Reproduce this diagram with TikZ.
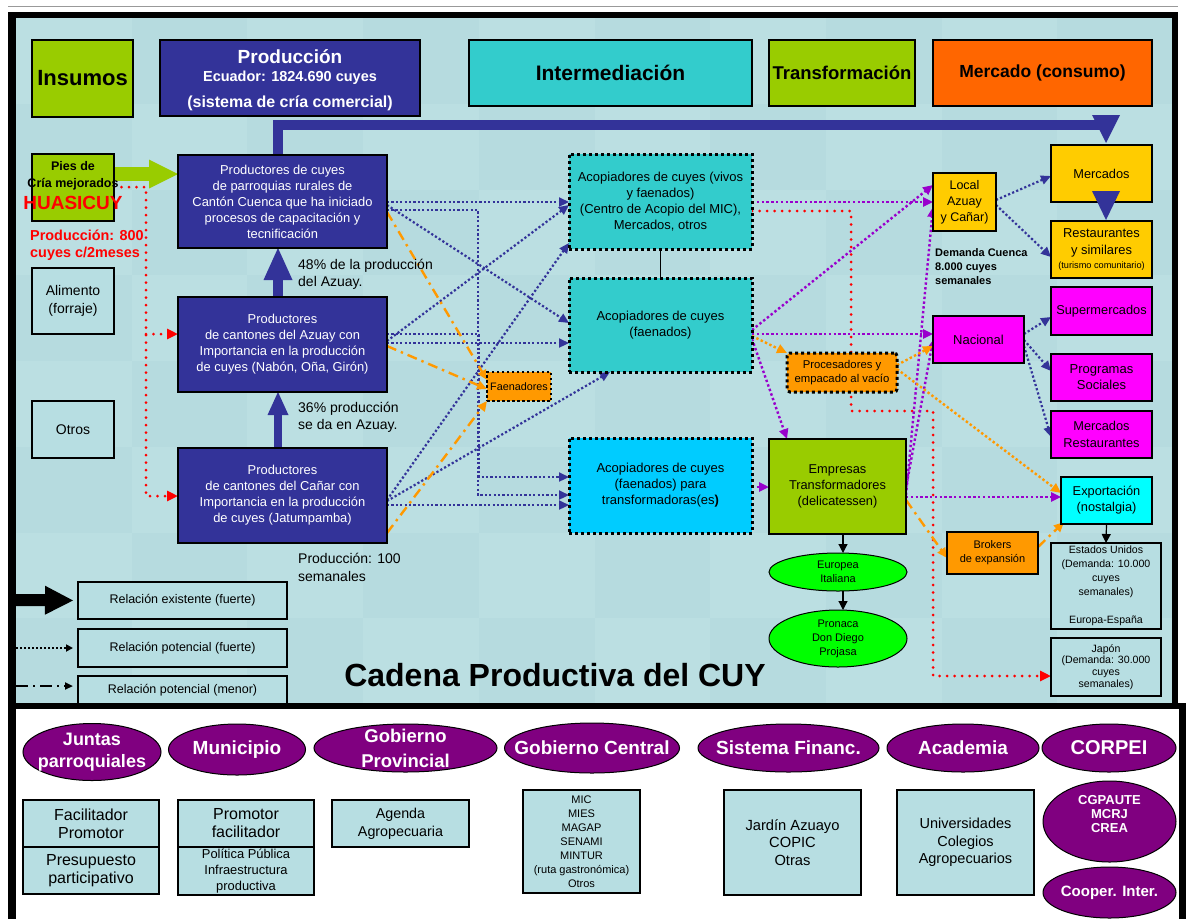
\documentclass[tikz,border=0pt]{standalone}
\usepackage{fontspec}
\setmainfont{Liberation Sans}
\usetikzlibrary{arrows.meta,shapes.geometric,calc}
\definecolor{navy}{RGB}{51,51,153}
\definecolor{lime}{RGB}{153,204,0}
\definecolor{teal2}{RGB}{51,204,204}
\definecolor{orangeH}{RGB}{255,102,0}
\definecolor{orangeB}{RGB}{255,153,0}
\definecolor{yellowB}{RGB}{255,204,0}
\definecolor{magB}{RGB}{255,0,255}
\definecolor{cyanB}{RGB}{0,255,255}
\definecolor{skyB}{RGB}{0,204,255}
\definecolor{greenE}{RGB}{0,255,0}
\definecolor{purpE}{RGB}{128,0,128}
\definecolor{violetL}{RGB}{153,0,204}
\definecolor{bgA}{RGB}{182,219,223}
\definecolor{bgB}{RGB}{187,223,226}
\definecolor{boxL}{RGB}{183,222,226}
\definecolor{redL}{RGB}{255,0,0}
\pgfdeclarelayer{back}
\pgfdeclarelayer{links}
\pgfsetlayers{back,links,main}
\newcommand{\fz}[2]{\fontsize{#1}{#2}\selectfont}
\begin{document}
\begin{tikzpicture}[x=1pt,y=-1pt,
  bx/.style={draw=black, line width=1.2pt, inner sep=0pt, outer sep=0pt, align=center},
  dbx/.style={draw=black, line width=3pt, dash pattern=on 3pt off 3pt, inner sep=0pt, outer sep=0pt, align=center},
  ell/.style={ellipse, draw=black, line width=1pt, inner sep=0pt, outer sep=0pt},
  txt/.style={inner sep=0pt, align=center},
  elab/.style={text=white, align=center, inner sep=0pt},
  tipA/.style={-{Triangle[length=10pt,width=9pt]}},
  pb/.style={draw=navy, line width=2.2pt, dash pattern=on 2.2pt off 2.2pt, tipA},
  pp/.style={draw=violetL, line width=2.4pt, dash pattern=on 2.4pt off 2.4pt, tipA},
  pod/.style={draw=orangeB, line width=2.4pt, dash pattern=on 2.4pt off 2.4pt, tipA},
  pdd/.style={draw=orangeB, line width=2.4pt, dash pattern=on 10pt off 5pt on 2.4pt off 5pt, tipA},
  prd/.style={draw=redL, line width=3pt, line cap=round, dash pattern=on 0pt off 7.5pt, -{Triangle[length=11pt,width=10pt]}},
  blk/.style={draw=black, line width=1.2pt, -{Triangle[length=9pt,width=9pt]}}
]
% ---------------- background ----------------
\begin{pgfonlayer}{back}
\fill[white] (0,0) rectangle (1188,919);
\fill[bgA] (16,18) rectangle (1173,704);
\foreach \i in {0,...,9}{\foreach \j in {0,...,7}{
  \pgfmathtruncatemacro{\k}{mod(\i+\j,2)}
  \ifnum\k=0 \fill[bgB] ({16+115.7*\i},{18+85.75*\j}) rectangle ++(115.7,85.75); \fi
}}
\draw[black!40, line width=1pt] (8,6.5) -- (1178,6.5);
\fill[black] (8,12) rectangle (16,919);
\fill[black] (8,12) rectangle (1178,18);
\fill[black] (1172,12) rectangle (1178,708);
\fill[black] (8,703) rectangle (1186,709);
\fill[black] (1179,703) rectangle (1186,919);
\end{pgfonlayer}

% ---------------- header ----------------
\node[bx, fill=lime, minimum width=101pt, minimum height=77pt, font=\bfseries\fz{22}{26}] (hIns) at (82.5,78.5) {Insumos};
\node[bx, fill=navy, minimum width=260pt, minimum height=76pt] (hProd) at (290,78) {};
\node[txt, text=white, font=\bfseries\fz{19}{22}] (hProdA) at (290,57) {Producción};
\node[txt, text=white, font=\bfseries\fz{14.5}{17}] (hProdB) at (290,78) {Ecuador: 1824.690 cuyes};
\node[txt, text=white, font=\bfseries\fz{16}{19}] (hProdC) at (290,103) {(sistema de cría comercial)};
\node[bx, fill=teal2, minimum width=283pt, minimum height=66pt, font=\bfseries\fz{21}{24}] (hInt) at (610.5,73) {Intermediación};
\node[bx, fill=lime, minimum width=146pt, minimum height=66pt, font=\bfseries\fz{18.5}{22}] (hTra) at (842,73) {Transformación};
\node[bx, fill=orangeH, minimum width=219pt, minimum height=66pt, font=\bfseries\fz{17.5}{21}] (hMer) at (1042.5,73) {Mercado (consumo)};

% ---------------- left column ----------------
\node[bx, fill=lime, minimum width=82pt, minimum height=67pt] (pies) at (73,187.5) {};
\node[txt, font=\bfseries\fz{12.5}{17}] (piesT) at (73,175.5) {Pies de\\Cría mejorados};
\node[txt, font=\bfseries\fz{19}{22}, text=redL] (hua) at (73,203) {HUASICUY};
\node[txt, anchor=west, align=left, font=\bfseries\fz{14.4}{17}, text=redL] (p800) at (30,245.5) {Producción: 800\\cuyes c/2meses};
\node[bx, fill=boxL, minimum width=82pt, minimum height=66pt, font=\fz{14}{18}] (alim) at (73,301) {Alimento\\(forraje)};
\node[bx, fill=boxL, minimum width=82pt, minimum height=57pt, font=\fz{14}{18}] (otros) at (73,429.5) {Otros};

% ---------------- producers ----------------
\node[bx, fill=navy, text=white, minimum width=209pt, minimum height=93pt, font=\fz{12.9}{16}] (P1) at (282.5,201.5) {Productores de cuyes\\de parroquias rurales de\\Cantón Cuenca que ha iniciado\\procesos de capacitación y\\tecnificación};
\node[bx, fill=navy, text=white, minimum width=209pt, minimum height=95pt, font=\fz{12.9}{16}] (P2) at (282.5,344.5) {Productores\\de cantones del Azuay con\\Importancia en la producción\\de cuyes (Nabón, Oña, Girón)};
\node[bx, fill=navy, text=white, minimum width=209pt, minimum height=95pt, font=\fz{12.9}{16}] (P3) at (282.5,495.5) {Productores\\de cantones del Cañar con\\Importancia en la producción\\de cuyes (Jatumpamba)};
\node[txt, anchor=west, align=left, font=\fz{14}{17}] (t48) at (298,274.5) {48\% de la producción\\del Azuay.};
\node[txt, anchor=west, align=left, font=\fz{14}{17}] (t36) at (298,417) {36\% producción\\se da en Azuay.};
\node[txt, anchor=west, align=left, font=\fz{14}{18}] (t100) at (298,567.5) {Producción: 100\\semanales};

% ---------------- intermediation ----------------
\node[dbx, fill=teal2, minimum width=183pt, minimum height=95pt, font=\fz{13}{16}] (A1) at (660.5,201.5) {Acopiadores de cuyes (vivos\\y faenados)\\(Centro de Acopio del MIC),\\Mercados, otros};
\node[dbx, fill=teal2, minimum width=183pt, minimum height=94pt, font=\fz{13}{16}] (A2) at (660.5,325) {Acopiadores de cuyes\\(faenados)};
\node[dbx, fill=skyB, minimum width=183pt, minimum height=95pt, font=\fz{13}{16}] (A3) at (660.5,485.5) {Acopiadores de cuyes\\(faenados) para\\transformadoras(es{\bfseries)}};
\node[dbx, line width=2.5pt, dash pattern=on 2.5pt off 2.5pt, fill=orangeB, minimum width=64pt, minimum height=29pt, font=\fz{10.8}{13}] (Faen) at (519,386.5) {Faenadores};

% ---------------- transformation ----------------
\node[dbx, fill=orangeB, rounded corners=3pt, minimum width=110pt, minimum height=39pt, font=\fz{11.3}{14}] (Proc) at (842,372.5) {Procesadores y\\empacado al vacío};
\node[bx, fill=lime, minimum width=137pt, minimum height=95pt, font=\fz{12.8}{16}] (Emp) at (837.5,486.5) {Empresas\\Transformadores\\(delicatessen)};
\node[ell, fill=greenE, minimum width=138pt, minimum height=38pt, label={[txt, font=\fz{11}{14}]center:Europea\\Italiana}] (Eur) at (838,572) {};
\node[ell, fill=greenE, minimum width=138pt, minimum height=57pt, label={[txt, font=\fz{11}{14}]center:Pronaca\\Don Diego\\Projasa}] (Pron) at (838,638.5) {};

% ---------------- market ----------------
\node[bx, fill=yellowB, minimum width=63pt, minimum height=58pt, font=\fz{12.5}{16}] (Local) at (964.5,202) {Local\\Azuay\\y Cañar)};
\node[txt, anchor=west, align=left, font=\bfseries\fz{11}{14}] (tDem) at (935,267) {Demanda Cuenca\\8.000 cuyes\\semanales};
\node[bx, fill=yellowB, minimum width=101pt, minimum height=57pt, font=\fz{12.8}{16}] (Merc) at (1101.5,173.5) {Mercados};
\node[bx, fill=yellowB, minimum width=101pt, minimum height=57pt, font=\fz{12.9}{17}] (Rest) at (1101.5,249.5) {Restaurantes\\y similares\\[-3pt]{\fz{9.2}{11}(turismo comunitario)}};
\node[bx, fill=magB, minimum width=101pt, minimum height=48pt, font=\fz{12.8}{16}] (Super) at (1101.5,311) {Supermercados};
\node[bx, fill=magB, minimum width=91pt, minimum height=47pt, font=\fz{13}{16}] (Nac) at (978.5,339.5) {Nacional};
\node[bx, fill=magB, minimum width=101pt, minimum height=47pt, font=\fz{13}{16}] (Prog) at (1101.5,377.5) {Programas\\Sociales};
\node[bx, fill=magB, minimum width=101pt, minimum height=47pt, font=\fz{12.8}{17}] (MRest) at (1101.5,434.5) {Mercados\\Restaurantes};
\node[bx, fill=cyanB, minimum width=91pt, minimum height=47pt, font=\fz{12.8}{16}] (Exp) at (1106.5,500.5) {Exportación\\(nostalgia)};
\node[bx, fill=orangeB, minimum width=91pt, minimum height=42pt, font=\fz{11}{14}] (Brok) at (992.5,553) {Brokers\\de expansión};
\node[bx, fill=boxL, minimum width=110pt, minimum height=86pt, font=\fz{10.6}{14}] (EEUU) at (1106,586) {Estados Unidos\\(Demanda: 10.000\\cuyes\\semanales)\\[14pt]Europa-España};
\node[bx, fill=boxL, minimum width=110pt, minimum height=58pt, font=\fz{10.6}{11.7}] (Jap) at (1106,667) {Japón\\(Demanda: 30.000\\cuyes\\semanales)};

% ---------------- legend and title ----------------
\node[bx, fill=boxL, minimum width=209pt, minimum height=37pt, font=\fz{12.5}{15}] (L1) at (182.5,600.5) {Relación existente (fuerte)};
\node[bx, fill=boxL, minimum width=209pt, minimum height=38pt, font=\fz{12.5}{15}] (L2) at (182.5,648) {Relación potencial (fuerte)};
\node[bx, fill=boxL, minimum width=209pt, minimum height=28pt, font=\fz{12.5}{15}] (L3) at (182.5,690) {Relación potencial (menor)};
\coordinate (lg1) at (16,600);
\coordinate (lg2) at (16,648);
\coordinate (lg3) at (16,686);
\node[txt, font=\bfseries\fz{32}{36}] (title) at (555,675) {Cadena Productiva del CUY};

% ---------------- bottom panel ----------------
\node[ell, fill=purpE, minimum width=138pt, minimum height=57pt, label={[elab, font=\bfseries\fz{18}{22}]center:Juntas\\parroquiales}] (eJun) at (92,752) {};
\node[ell, fill=purpE, minimum width=137pt, minimum height=51pt, label={[elab, font=\bfseries\fz{19}{22}]center:Municipio}] (eMun) at (237,749.5) {};
\node[ell, fill=purpE, minimum width=183pt, minimum height=48pt, label={[elab, font=\bfseries\fz{18.5}{25}]center:Gobierno\\Provincial}] (eGP) at (405.5,748) {};
\node[ell, fill=purpE, minimum width=175pt, minimum height=50pt, label={[elab, font=\bfseries\fz{19}{22}]center:Gobierno Central}] (eGC) at (592,748) {};
\node[ell, fill=purpE, minimum width=181pt, minimum height=48pt, label={[elab, font=\bfseries\fz{19}{22}]center:Sistema Financ.}] (eSF) at (788.5,748) {};
\node[ell, fill=purpE, minimum width=152pt, minimum height=48pt, label={[elab, font=\bfseries\fz{19}{22}]center:Academia}] (eAc) at (963,748) {};
\node[ell, fill=purpE, minimum width=134pt, minimum height=48pt, label={[elab, font=\bfseries\fz{20}{22}]center:CORPEI}] (eCOR) at (1109,748) {};
\node[ell, fill=purpE, minimum width=133pt, minimum height=81pt, label={[elab, yshift=7pt, font=\bfseries\fz{13}{14}]center:CGPAUTE\\MCRJ\\CREA}] (eCG) at (1109.5,821.5) {};
\node[ell, fill=purpE, minimum width=133pt, minimum height=51pt, label={[elab, font=\bfseries\fz{15}{18}]center:Cooper. Inter.}] (eCoop) at (1109.5,892.5) {};

\node[bx, fill=boxL, minimum width=136pt, minimum height=47pt, font=\fz{16}{18}] (bFac) at (91,823.5) {Facilitador\\Promotor};
\node[bx, fill=boxL, minimum width=136pt, minimum height=47pt, font=\fz{16}{18}] (bPre) at (91,870.5) {Presupuesto\\participativo};
\node[bx, fill=boxL, minimum width=136pt, minimum height=47pt, font=\fz{16}{18}] (bProm) at (246,823.5) {Promotor\\facilitador};
\node[bx, fill=boxL, minimum width=136pt, minimum height=48pt, font=\fz{12.9}{16}] (bPol) at (246,871) {Política Pública\\Infraestructura\\productiva};
\node[bx, fill=boxL, minimum width=137pt, minimum height=47pt, font=\fz{14.3}{18}] (bAge) at (400.5,823.5) {Agenda\\Agropecuaria};
\node[bx, fill=boxL, minimum width=117pt, minimum height=103pt, font=\fz{11}{14}] (bMIC) at (581.5,841.5) {MIC\\MIES\\MAGAP\\SENAMI\\MINTUR\\(ruta gastronómica)\\Otros};
\node[bx, fill=boxL, minimum width=137pt, minimum height=105pt, font=\fz{14.7}{17.7}] (bJar) at (792.5,842.5) {Jardín Azuayo\\COPIC\\Otras};
\node[bx, fill=boxL, minimum width=137pt, minimum height=105pt, font=\fz{14.5}{17.7}] (bUni) at (965.5,842.5) {Universidades\\Colegios\\Agropecuarios};

% ---------------- connectors ----------------
\begin{pgfonlayer}{links}
% thick existing relations
\coordinate (bigEnd) at (1100,125);
\draw[navy, line width=10pt] (P1.north -| 278,0) |- (bigEnd);
\fill[navy] (1092,115) -- (1120,115) -- (1106,143) -- cycle;
\draw[navy, line width=10pt, -{Triangle[length=32pt,width=29pt,line width=0pt]}] (P2.north -| 278,0) -- (P1.south -| 278,0);
\draw[navy, line width=8pt, -{Triangle[length=23pt,width=21pt,line width=0pt]}] (P3.north -| 278,0) -- (P2.south -| 278,0);
\draw[lime, line width=14pt, -{Triangle[length=29pt,width=29pt,line width=0pt]}] (pies.east |- 0,174) -- (P1.west |- 0,174);
% legend arrows
\draw[black, line width=12pt, shorten >=5pt, -{Triangle[length=28pt,width=29pt,line width=0pt]}] (lg1) -- (L1.west);
\draw[black, line width=2pt, dash pattern=on 2pt off 2pt, shorten >=5pt, -{Triangle[length=7pt,width=7pt]}] (lg2) -- (L2.west);
\draw[black, line width=2pt, dash pattern=on 12pt off 5pt on 2pt off 5pt, shorten >=5pt, -{Triangle[length=8pt,width=7pt]}] (lg3) -- (L3.west |- lg3);
% red dotted
\draw[prd] (pies.east |- 0,187) -- (146,187) -- (146,496) -- (P3.west |- 0,496);
\draw[prd] (146,334) -- (P2.west |- 0,334);
\draw[prd] (A1.east |- 0,211) -- (851,211) -- (851,411) -- (933,411) -- (933,676) -- (Jap.west |- 0,676);
% blue dotted from producers
\draw[pb] (P1.east |- 0,202) -- (A1.west |- 0,202);
\draw[pb] (P1.east |- 0,210) -- (478,210) -- (478,495) -- (A3.west |- 0,495);
\draw[pb] (P1.east |- 0,205) -- (A2.west |- 0,323);
\draw[pb] (P2.east |- 0,334) -- (479,334) -- (479,477) -- (A3.west |- 0,477);
\draw[pb] (P2.east |- 0,343) -- (A2.west |- 0,343);
\draw[pb] (P2.east |- 0,341) -- (A1.west |- 0,205);
\draw[pb] (P3.east |- 0,500) -- (A1.west |- 0,243);
\draw[pb] (P3.east |- 0,501) -- (A2.south -| 610,0);
\draw[pb] (P3.east |- 0,505) -- (A3.west |- 0,505);
% orange dash-dot to Faenadores
\draw[pdd] (P1.east |- 0,212) -- (Faen.west |- 0,380);
\draw[pdd] (P2.east |- 0,346) -- (Faen.west |- 0,389);
\draw[pdd] (P3.east |- 0,533) -- (Faen.south west);
% thin link between collectors
\draw[black, line width=1.2pt] (A1.south) -- (A2.north);
% purple dotted
\draw[pp] (A1.east |- 0,202) -- (Local.west |- 0,202);
\draw[pp] (A2.east |- 0,330) -- (Local.west |- 0,185);
\draw[pp] (A2.east |- 0,334) -- (Nac.west |- 0,334);
\draw[pp] (A2.east |- 0,339) -- (Emp.north -| 787,0);
\draw[pp] (A3.east |- 0,487) -- (Emp.west |- 0,487);
\draw[pp] (Emp.east |- 0,495) -- (Local.west |- 0,207);
\draw[pp] (Emp.east |- 0,488) -- (Nac.west |- 0,340);
\draw[pp] (Emp.east |- 0,497) -- (Exp.west |- 0,497);
% orange dotted / dash-dot
\draw[pod] (A2.east |- 0,336) -- (Proc.north west);
\draw[pod] (Proc.east |- 0,365) -- (Nac.west |- 0,346);
\draw[pod] (Proc.east |- 0,369) -- (Exp.west |- 0,493);
\draw[pdd] (Emp.east |- 0,500) -- (Brok.west |- 0,558);
\draw[pdd] (Brok.east |- 0,547) -- ([xshift=3pt,yshift=2pt]Exp.south west);
% navy dotted to markets
\draw[pb] (Local.east |- 0,200) -- (Merc.west |- 0,176);
\draw[pb] (Local.east |- 0,205) -- (Rest.west |- 0,257);
\draw[pb] (Nac.east |- 0,334) -- (Super.west |- 0,317);
\draw[pb] (Nac.east |- 0,340) -- (Prog.west |- 0,371);
\draw[pb] (Nac.east |- 0,346) -- (MRest.west |- 0,437);
% black solid
\draw[blk] (Exp.south) -- (EEUU.north);
\draw[blk] (Emp.south -| 843,0) -- (Eur.north -| 843,0);
\draw[blk] (Eur.south -| 843,0) -- (Pron.north -| 843,0);
\end{pgfonlayer}
% arrowhead between Mercados and Restaurantes
\fill[navy] (1092,191) -- (1120,191) -- (1106,220) -- cycle;
\end{tikzpicture}
\end{document}
